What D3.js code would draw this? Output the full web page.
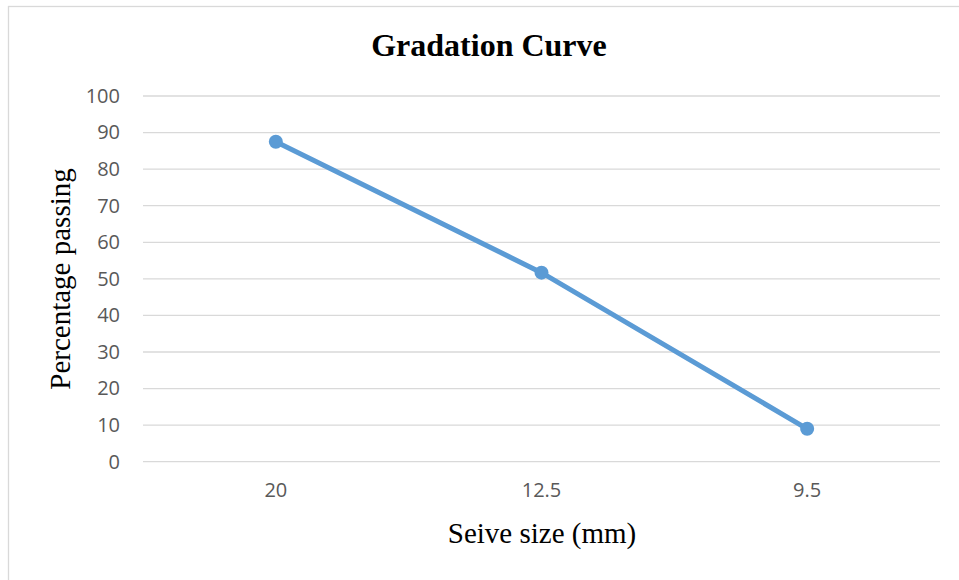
<!DOCTYPE html>
<html lang="en">
<head>
<meta charset="UTF-8">
<title>Gradation Curve</title>
<script src="https://d3js.org/d3.v7.min.js"></script>
<style>
  body { margin: 0; background: #fff; }
</style>
</head>
<body>
<div id="chart"></div>
<script>
// data
const sieveSizes = ["20", "12.5", "9.5"];
const passing = [87.5, 51.7, 9];
const yTicks = [0, 10, 20, 30, 40, 50, 60, 70, 80, 90, 100];

const W = 959, H = 580;
const plot = { left: 143, right: 940, top: 96, bottom: 461.7 };

const svg = d3.select("#chart").append("svg")
  .attr("width", W)
  .attr("height", H);

// outer frame
svg.append("rect")
  .attr("x", 8.5).attr("y", 6.5)
  .attr("width", 960).attr("height", 590)
  .attr("fill", "none")
  .attr("stroke", "#d9d9d9")
  .attr("stroke-width", 1.3);

const x = d3.scaleBand()
  .domain(sieveSizes)
  .range([plot.left, plot.right]);

const y = d3.scaleLinear()
  .domain([0, 100])
  .range([plot.bottom, plot.top]);

// gridlines
svg.append("g")
  .selectAll("line")
  .data(yTicks)
  .enter()
  .append("line")
  .attr("x1", plot.left)
  .attr("x2", plot.right)
  .attr("y1", d => y(d))
  .attr("y2", d => y(d))
  .attr("stroke", "#d9d9d9")
  .attr("stroke-width", 1.3);

// y axis labels
const yAxis = svg.append("g")
  .attr("transform", `translate(${plot.left - 23},0)`)
  .call(d3.axisLeft(y).tickValues(yTicks).tickSize(0).tickPadding(0));
yAxis.select(".domain").remove();
yAxis.selectAll("text")
  .attr("fill", "#595959")
  .style("font-family", "'Open Sans', sans-serif")
  .style("font-size", "20px");

// x axis labels
const xAxis = svg.append("g")
  .attr("transform", `translate(0,${plot.bottom + 21})`)
  .call(d3.axisBottom(x).tickSize(0).tickPadding(0));
xAxis.select(".domain").remove();
xAxis.selectAll("text")
  .attr("fill", "#595959")
  .style("font-family", "'Open Sans', sans-serif")
  .style("font-size", "20px");

// line
const line = d3.line()
  .x((d, i) => x(sieveSizes[i]) + x.bandwidth() / 2)
  .y(d => y(d));

svg.append("path")
  .datum(passing)
  .attr("d", line)
  .attr("fill", "none")
  .attr("stroke", "#5b9bd5")
  .attr("stroke-width", 5)
  .attr("stroke-linecap", "round");

svg.append("g")
  .selectAll("circle")
  .data(passing)
  .enter()
  .append("circle")
  .attr("cx", (d, i) => x(sieveSizes[i]) + x.bandwidth() / 2)
  .attr("cy", d => y(d))
  .attr("r", 7)
  .attr("fill", "#5b9bd5");

// titles
svg.append("text")
  .attr("x", 489).attr("y", 56)
  .attr("text-anchor", "middle")
  .style("font-family", "'Liberation Serif', 'Times New Roman', serif")
  .style("font-weight", "bold")
  .style("font-size", "32px")
  .text("Gradation Curve");

svg.append("text")
  .attr("x", 542).attr("y", 543)
  .attr("text-anchor", "middle")
  .style("font-family", "'Liberation Serif', 'Times New Roman', serif")
  .style("font-size", "29px")
  .text("Seive size (mm)");

svg.append("text")
  .attr("transform", "translate(70,279) rotate(-90)")
  .attr("text-anchor", "middle")
  .style("font-family", "'Liberation Serif', 'Times New Roman', serif")
  .style("font-size", "29px")
  .text("Percentage passing");
</script>
</body>
</html>
